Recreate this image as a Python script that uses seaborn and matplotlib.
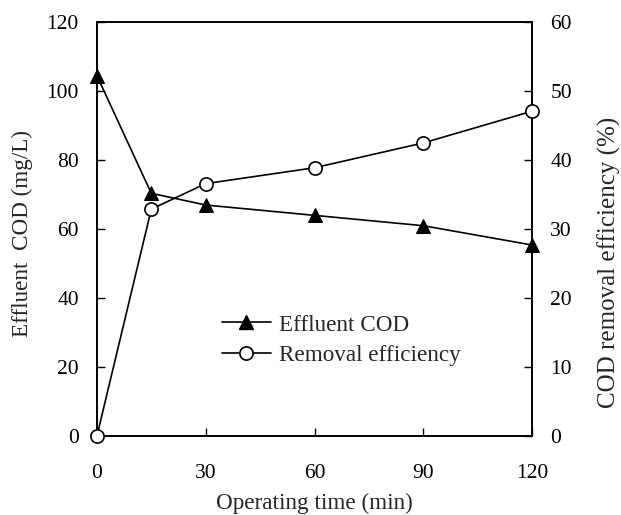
import matplotlib
matplotlib.use("Agg")
import matplotlib.pyplot as plt
import seaborn as sns
import pandas as pd
from matplotlib.lines import Line2D

time_min = [0, 15, 30, 60, 90, 120]
effluent_cod = [104.5, 70.4, 67.0, 64.0, 61.0, 55.4]
removal_eff = [0.0, 32.9, 36.6, 38.9, 42.5, 47.1]

sns.set_style("ticks")
plt.rcParams['font.family'] = ['Liberation Serif', 'DejaVu Serif']
FS = 15.5
LFS = 16.7
plt.rcParams['font.size'] = FS

df = pd.DataFrame({"t": time_min, "cod": effluent_cod, "eff": removal_eff})

fig = plt.figure(figsize=(6.21, 5.15), dpi=100)
ax = fig.add_axes([0.156, 0.153, 0.701, 0.804])
ax2 = ax.twinx()

sns.lineplot(data=df, x="t", y="cod", ax=ax, color="black", lw=1.2,
             marker="^", markersize=10, markerfacecolor="black",
             markeredgecolor="black", clip_on=False, zorder=3)
sns.lineplot(data=df, x="t", y="eff", ax=ax2, color="black", lw=1.2,
             marker="o", markersize=9.5, markerfacecolor="white",
             markeredgecolor="black", markeredgewidth=1.2, clip_on=False, zorder=3)

ax.set_xlim(0, 120)
ax.set_ylim(0, 120)
ax2.set_ylim(0, 60)
ax.set_xticks([0, 30, 60, 90, 120])
ax.set_yticks(range(0, 121, 20))
ax2.set_yticks(range(0, 61, 10))

for a in (ax, ax2):
    for s in a.spines.values():
        s.set_linewidth(1.2)
        s.set_color("black")
        s.set_visible(True)
ax.tick_params(axis="y", direction="in", length=6, width=1, pad=13, labelsize=FS, colors="black")
ax.tick_params(axis="x", direction="in", length=6, width=1, pad=20, labelsize=FS, colors="black")
ax2.tick_params(axis="y", direction="in", length=6, width=1, pad=13, labelsize=FS, colors="black")

ax.set_xlabel("Operating time (min)", fontsize=LFS)
ax.xaxis.set_label_coords(0.5, -0.162)
ax.xaxis.label.set_va("center")
ax.set_ylabel("Effluent  COD (mg/L)", fontsize=LFS)
ax.yaxis.set_label_coords(-0.170, 0.49)
ax.yaxis.label.set_va("center")
ax.yaxis.label.set_ha("center")
ax2.set_ylabel("COD removal efficiency (%)", fontsize=18)
ax2.yaxis.set_label_coords(1.177, 0.42)
ax2.yaxis.label.set_va("center")
ax2.yaxis.label.set_ha("center")

handles = [
    Line2D([], [], color="black", lw=1.2, marker="^", markersize=10, markerfacecolor="black"),
    Line2D([], [], color="black", lw=1.2, marker="o", markersize=9.5, markerfacecolor="white", markeredgewidth=1.2),
]
ax2.legend(handles, ["Effluent COD", "Removal efficiency"], loc="center left",
           bbox_to_anchor=(0.287, 0.232), frameon=False, borderpad=0, borderaxespad=0,
           handlelength=2.1, handletextpad=0.35, labelspacing=0.4, fontsize=LFS)

fig.savefig("out.png", dpi=100)
